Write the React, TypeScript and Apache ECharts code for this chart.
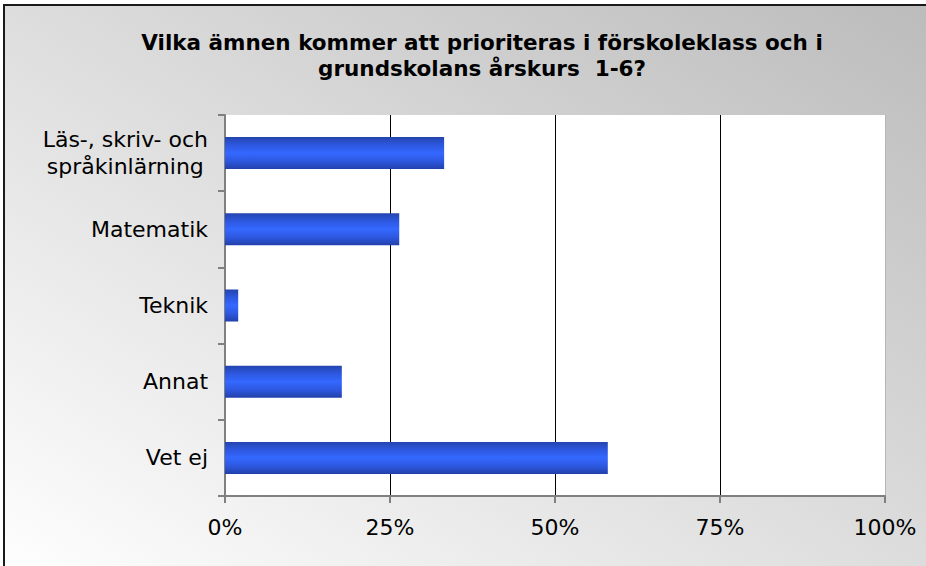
import React, { useEffect, useRef } from "react";
import * as echarts from "echarts";

const categories = ["Läs-, skriv- och\nspråkinlärning", "Matematik", "Teknik", "Annat", "Vet ej"];
const values = [33.2, 26.4, 2.0, 17.7, 58.0];
const titleText = "Vilka ämnen kommer att prioriteras i förskoleklass och i\ngrundskolans årskurs  1-6?";

export default function App() {
  const ref = useRef<HTMLDivElement>(null);
  useEffect(() => {
    const chart = echarts.init(ref.current!, undefined, { renderer: "svg" });
    const barGrad = new echarts.graphic.LinearGradient(0, 0, 0, 1, [
      { offset: 0, color: "#2444ae" },
      { offset: 0.25, color: "#2d58e0" },
      { offset: 0.5, color: "#3468ff" },
      { offset: 0.75, color: "#2d58e0" },
      { offset: 1, color: "#2240aa" },
    ]);
    chart.setOption({
      animation: false,
      graphic: [
        {
          type: "rect",
          z: -10,
          silent: true,
          shape: { x: 4, y: 5, width: 940, height: 580 },
          style: {
            fill: new echarts.graphic.LinearGradient(0, 1, 1, 0, [
              { offset: 0, color: "#ffffff" },
              { offset: 1, color: "#bbbbbb" },
            ]),
            stroke: "#1a1a1a",
            lineWidth: 2,
          },
        },
      ],
      title: {
        text: titleText,
        left: 477,
        top: 24,
        textAlign: "center",
        textStyle: {
          fontFamily: "DejaVu Sans",
          fontWeight: "bold",
          fontSize: 21.5,
          lineHeight: 26,
          color: "#000",
        },
      },
      grid: {
        left: 225,
        right: 41,
        top: 115,
        bottom: 70,
        show: true,
        backgroundColor: "#ffffff",
        borderWidth: 0,
      },
      xAxis: {
        type: "value",
        min: 0,
        max: 100,
        interval: 25,
        axisLine: { show: true, lineStyle: { color: "#808080", width: 2 } },
        axisTick: { show: true, length: 7, lineStyle: { color: "#808080", width: 2 } },
        axisLabel: {
          formatter: "{value}%",
          margin: 20,
          fontFamily: "DejaVu Sans",
          fontSize: 22,
          color: "#000",
        },
        splitLine: {
          show: true,
          lineStyle: { color: ["#000", "#000", "#000", "#000", "#b5b5b5"], width: 1 },
        },
      },
      yAxis: {
        type: "category",
        data: categories,
        inverse: true,
        axisLine: { show: true, lineStyle: { color: "#808080", width: 2 } },
        axisTick: { show: true, length: 7, lineStyle: { color: "#808080", width: 2 } },
        axisLabel: {
          margin: 17,
          align: "right",
          color: "#000",
          fontFamily: "DejaVu Sans",
          fontSize: 22,
          formatter: (v: string) =>
            v
              .split("\n")
              .map((l) => `{c|${l}}`)
              .join("\n"),
          rich: {
            c: {
              align: "center",
              fontFamily: "DejaVu Sans",
              fontSize: 22,
              lineHeight: 27,
              color: "#000",
            },
          },
        },
        splitLine: { show: false },
      },
      series: [
        {
          type: "bar",
          data: values,
          barWidth: "42%",
          itemStyle: { color: barGrad },
        },
      ],
    });
    return () => chart.dispose();
  }, []);
  return (
    <div
      ref={ref}
      style={{ position: "absolute", left: 0, top: 0, width: 926, height: 566 }}
    />
  );
}
